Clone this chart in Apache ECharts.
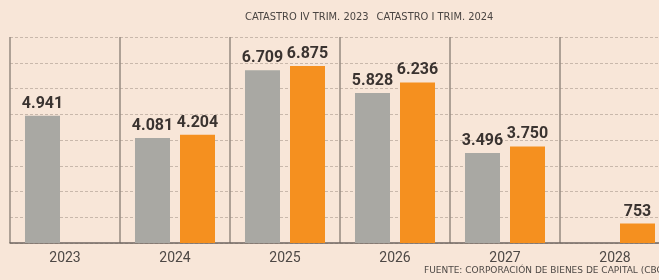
<!DOCTYPE html>
<html lang="es">

<head>
  <meta charset="utf-8">
  <title>Catastro CBC</title>
  <script src="https://cdn.jsdelivr.net/npm/echarts@6/dist/echarts.min.js"></script>
  <style>
    body {
      margin: 0;
      background: #f8e6d8;
      overflow: hidden;
    }

    /* Wider than the window on purpose: the last column is cut off on the right. */
    #chart {
      width: 672px;
      height: 280px;
    }
  </style>
</head>

<body>
  <div id="chart"></div>

  <script>
    // --- Data.

    const YEARS = ['2023', '2024', '2025', '2026', '2027', '2028'];

    // Catastro IV trimestre 2023 (grey).
    const CATASTRO_IV_2023 = [4941, 4081, 6709, 5828, 3496, null];

    // Catastro I trimestre 2024 (orange).
    const CATASTRO_I_2024 = [null, 4204, 6875, 6236, 3750, 753];

    const SERIES_NAMES = ['CATASTRO IV TRIM. 2023', 'CATASTRO I TRIM. 2024'];
    const SOURCE = 'FUENTE: CORPORACIÓN DE BIENES DE CAPITAL (CBC)';

    // --- Style.

    const GREY = '#a9a8a3';
    const ORANGE = '#f5901f';

    // Numbers use a dot as thousands separator.
    function fmt(v) {
      return String(v).replace(/\B(?=(\d{3})+(?!\d))/g, '.');
    }

    function barSeries(name, data, color) {
      return {
        name: name,
        type: 'bar',
        data: data,
        barWidth: 35,
        barGap: '28.6%',
        itemStyle: { color: color },
        label: {
          show: true,
          position: 'top',
          distance: 4,
          fontFamily: 'Roboto, sans-serif',
          fontWeight: 'bold',
          fontSize: 16,
          color: '#3a3330',
          formatter: p => fmt(p.value)
        }
      };
    }

    const chart = echarts.init(document.getElementById('chart'));

    chart.setOption({
      backgroundColor: '#f8e6d8',
      animation: false,
      legend: {
        top: 7,
        left: 240,
        icon: 'rect',
        itemWidth: 0,
        itemHeight: 0,
        itemGap: 8,
        selectedMode: false,
        textStyle: {
          fontFamily: '"DejaVu Sans Condensed", sans-serif',
          fontSize: 11,
          color: '#4a4542',
          padding: [0, 0, 0, -5]
        },
        data: SERIES_NAMES
      },
      grid: {
        left: 10,
        top: 37,
        width: 660,
        height: 206
      },
      xAxis: {
        type: 'category',
        data: YEARS,
        axisTick: { show: false },
        axisLine: { lineStyle: { color: '#6f6660', width: 1.5 } },
        axisLabel: {
          margin: 8,
          fontFamily: 'Roboto, sans-serif',
          fontSize: 14,
          color: '#4d4845'
        },
        splitLine: {
          show: true,
          lineStyle: { color: '#968a80', width: 1.5 }
        }
      },
      yAxis: {
        type: 'value',
        min: 0,
        max: 8000,
        interval: 1000,
        axisLabel: { show: false },
        axisLine: { show: false },
        axisTick: { show: false },
        splitLine: {
          lineStyle: { color: '#c9b8ab', type: [3, 2], width: 1 }
        }
      },
      series: [
        barSeries(SERIES_NAMES[0], CATASTRO_IV_2023, GREY),
        barSeries(SERIES_NAMES[1], CATASTRO_I_2024, ORANGE)
      ],
      graphic: [{
        type: 'text',
        left: 424,
        top: 266,
        style: {
          text: SOURCE,
          fontFamily: '"DejaVu Sans", sans-serif',
          fontSize: 9,
          fill: '#4d4845'
        }
      }]
    });
  </script>
</body>

</html>
